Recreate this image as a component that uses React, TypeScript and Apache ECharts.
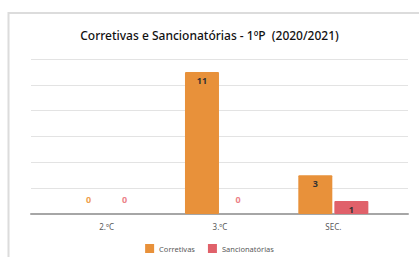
import React, { useEffect, useRef } from "react";
import * as echarts from "echarts";

const categories = ["2.ºC", "3.ºC", "SEC."];
const corretivas = [0, 11, 3];
const sancionatorias = [0, 0, 1];
const titleText = "Corretivas e Sancionatórias - 1ºP  (2020/2021)";

const ORANGE = "#E8913A";
const RED = "#E0616A";

function toData(values: number[], color: string) {
  return values.map((v) =>
    v === 0
      ? { value: v, label: { position: "top", distance: 10, color, fontWeight: "bold" } }
      : { value: v }
  );
}

export default function App() {
  const ref = useRef<HTMLDivElement>(null);
  useEffect(() => {
    if (!ref.current) return;
    const chart = echarts.init(ref.current, null, { renderer: "svg" });
    const font = "'Noto Sans', sans-serif";
    chart.setOption({
      animation: false,
      backgroundColor: "#ffffff",
      title: {
        text: titleText,
        left: "center",
        top: 24,
        textStyle: { fontSize: 12, fontWeight: 500, color: "#111111", fontFamily: font },
      },
      graphic: [
        {
          type: "rect",
          shape: { x: 8.5, y: 13, width: 420, height: 260 },
          style: { fill: "none", stroke: "#dcdcdc", lineWidth: 2 },
          silent: true,
        },
      ],
      legend: {
        data: ["Corretivas", "Sancionatórias"],
        top: 239,
        left: "center",
        itemWidth: 9,
        itemHeight: 9,
        itemGap: 13,
        icon: "rect",
        textStyle: { fontSize: 7.5, color: "#595959", fontFamily: font },
      },
      grid: [
        { left: 31, right: 11, top: 59, bottom: 43 },
        { left: 50, right: 29, top: 59, bottom: 43 },
      ],
      xAxis: [
        {
          gridIndex: 0,
          type: "value",
          min: 0,
          max: 1,
          axisLine: { show: true, lineStyle: { color: "#a6a6a6", width: 2 } },
          axisTick: { show: false },
          axisLabel: { show: false },
          splitLine: { show: false },
        },
        {
          gridIndex: 1,
          type: "category",
          data: categories,
          axisLine: { show: false },
          axisTick: { show: false },
          axisLabel: { fontSize: 8, color: "#595959", margin: 8, fontFamily: font },
        },
      ],
      yAxis: [
        {
          gridIndex: 0,
          type: "value",
          min: 0,
          max: 12,
          interval: 2,
          axisLine: { show: false },
          axisTick: { show: false },
          axisLabel: { show: false },
          splitLine: { lineStyle: { color: "#e3e3e3", width: 1 } },
        },
        {
          gridIndex: 1,
          type: "value",
          min: 0,
          max: 12,
          interval: 2,
          show: false,
        },
      ],
      series: [
        {
          name: "Corretivas",
          type: "bar",
          xAxisIndex: 1,
          yAxisIndex: 1,
          barWidth: 34,
          barGap: "6%",
          itemStyle: { color: ORANGE, borderRadius: 1 },
          label: {
            show: true,
            position: "insideTop",
            distance: 4,
            fontSize: 9,
            fontWeight: "bold",
            color: "#333333",
            fontFamily: font,
          },
          data: toData(corretivas, "#F0A04E"),
        },
        {
          name: "Sancionatórias",
          type: "bar",
          xAxisIndex: 1,
          yAxisIndex: 1,
          barWidth: 34,
          barGap: "6%",
          itemStyle: { color: RED, borderRadius: 1 },
          label: {
            show: true,
            position: "insideTop",
            distance: 4,
            fontSize: 9,
            fontWeight: "bold",
            color: "#333333",
            fontFamily: font,
          },
          data: toData(sancionatorias, "#EC8288"),
        },
      ],
    });
    return () => chart.dispose();
  }, []);
  return (
    <div
      ref={ref}
      style={{ position: "fixed", left: 0, top: 0, width: 419, height: 257 }}
    />
  );
}
